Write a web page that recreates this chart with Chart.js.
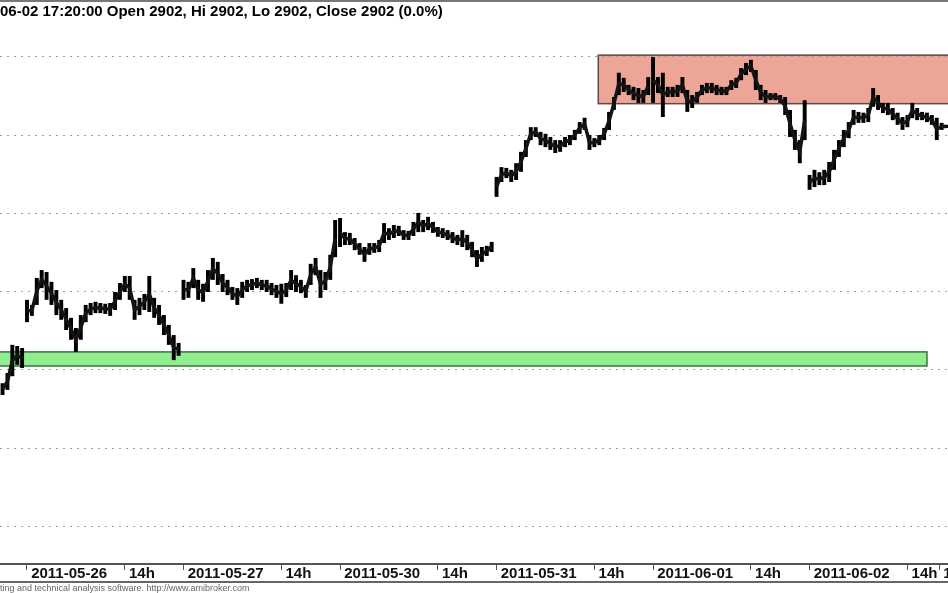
<!DOCTYPE html>
<html>
<head>
<meta charset="utf-8">
<script src="https://cdn.jsdelivr.net/npm/chart.js@4.4.0/dist/chart.umd.min.js"></script>
<style>
  html, body { margin: 0; padding: 0; background: #fff; }
  canvas { display: block; }
</style>
</head>
<body>
<canvas id="chart" width="948" height="593"></canvas>
<script>
// 15-minute slots, slot 0 = 2011-05-26 09:00 (32 slots per session)
const firstSlot = -5;
const sessionStarts = [0, 32, 64, 96, 128, 160];

// HIGH of each slot
const hiVals = [
    2836.6, 2839.2, 2846.4, 2846.1, 2845.6,                           // 05-25 close
    2857.9, 2856.6, 2863.5, 2865.5, 2865.0, 2862.5, 2860.4, 2857.9,   // 05-26
    2855.8, 2853.3, 2850.7, 2854.0, 2856.6, 2857.1, 2857.4, 2857.1,
    2856.9, 2857.1, 2859.9, 2862.2, 2864.0, 2864.0, 2857.9, 2858.4,
    2859.4, 2864.0, 2858.4, 2856.6, 2854.0, 2851.5, 2848.9, 2846.9,
    2863.0, 2862.5, 2866.0, 2863.0, 2862.0, 2865.5, 2868.6, 2867.6,   // 05-27
    2864.5, 2863.0, 2861.2, 2860.9, 2862.5, 2863.0, 2863.2, 2863.5,
    2863.0, 2863.0, 2862.2, 2861.7, 2862.0, 2862.2, 2865.5, 2864.2,
    2863.0, 2861.7, 2867.1, 2868.6, 2865.5, 2865.0, 2869.4, 2878.3,
    2878.8, 2875.2, 2875.0, 2873.7, 2872.4, 2871.4, 2872.4, 2872.4,   // 05-30
    2873.2, 2877.5, 2876.2, 2877.0, 2876.8, 2875.7, 2875.5, 2877.8,
    2880.1, 2878.3, 2879.1, 2877.8, 2876.5, 2876.2, 2875.7, 2875.2,
    2874.5, 2875.7, 2874.5, 2872.7, 2870.6, 2871.4, 2871.7, 2872.7,
    2889.3, 2891.8, 2891.6, 2891.1, 2892.8, 2895.7, 2898.7, 2902.0,   // 05-31
    2902.0, 2900.8, 2900.3, 2899.5, 2898.7, 2898.7, 2899.5, 2900.0,
    2901.3, 2903.3, 2904.4, 2900.0, 2899.2, 2900.0, 2901.8, 2905.9,
    2909.7, 2915.9, 2914.6, 2912.8, 2912.3, 2912.0, 2911.5, 2914.8,
    2919.9, 2914.8, 2915.9, 2912.3, 2912.3, 2912.8, 2914.8, 2911.5,   // 06-01
    2910.2, 2911.0, 2912.8, 2913.3, 2913.3, 2912.8, 2912.3, 2912.3,
    2914.0, 2914.6, 2917.1, 2918.4, 2919.2, 2916.6, 2912.8, 2911.5,
    2910.7, 2910.7, 2910.2, 2909.7, 2906.4, 2901.3, 2898.7, 2908.9,
    2889.8, 2891.1, 2890.5, 2891.1, 2893.1, 2896.2, 2898.7, 2901.3,   // 06-02
    2903.3, 2906.4, 2905.9, 2905.7, 2906.9, 2912.0, 2910.2, 2908.2,
    2908.2, 2906.9, 2905.7, 2904.6, 2905.1, 2908.2, 2906.9, 2905.9,
    2905.7, 2905.1, 2904.4, 2903.1, 2902.6
];

// LOW of each slot
const loVals = [
    2833.6, 2834.9, 2838.4, 2841.3, 2840.5,
    2852.2, 2853.8, 2856.6, 2860.9, 2857.9, 2856.6, 2854.0, 2852.8,
    2850.2, 2847.7, 2844.6, 2847.7, 2852.2, 2854.0, 2854.5, 2854.5,
    2854.3, 2853.8, 2855.3, 2857.9, 2859.9, 2857.9, 2852.8, 2854.0,
    2855.3, 2854.8, 2853.3, 2851.5, 2848.9, 2846.4, 2842.5, 2843.6,
    2857.9, 2858.4, 2860.9, 2857.9, 2857.4, 2859.9, 2863.0, 2861.7,
    2859.9, 2859.1, 2857.9, 2856.6, 2858.4, 2859.9, 2860.4, 2860.9,
    2860.4, 2859.9, 2859.1, 2858.4, 2856.9, 2858.6, 2860.4, 2859.9,
    2859.6, 2858.4, 2861.7, 2864.2, 2858.4, 2860.4, 2863.0, 2868.8,
    2871.4, 2871.9, 2871.9, 2870.6, 2869.4, 2867.6, 2869.4, 2869.9,
    2870.1, 2872.4, 2873.2, 2873.7, 2874.2, 2873.2, 2873.2, 2874.2,
    2875.2, 2875.2, 2875.7, 2875.0, 2874.0, 2873.7, 2873.2, 2872.4,
    2871.9, 2871.4, 2870.6, 2868.8, 2866.3, 2867.6, 2869.1, 2870.1,
    2884.2, 2888.0, 2889.0, 2888.0, 2888.5, 2890.6, 2894.4, 2898.7,
    2899.5, 2897.4, 2896.9, 2896.2, 2895.4, 2895.7, 2896.9, 2897.4,
    2898.7, 2900.3, 2901.3, 2896.2, 2896.9, 2897.4, 2898.7, 2901.3,
    2906.4, 2910.2, 2911.0, 2910.2, 2908.9, 2908.2, 2908.2, 2910.2,
    2908.2, 2910.7, 2904.6, 2909.7, 2909.7, 2909.7, 2910.7, 2905.9,
    2906.9, 2908.2, 2910.2, 2910.7, 2910.7, 2910.2, 2910.2, 2910.2,
    2911.5, 2912.0, 2914.0, 2915.3, 2916.1, 2911.5, 2908.9, 2908.2,
    2908.9, 2908.9, 2908.2, 2905.1, 2899.5, 2896.2, 2892.8, 2898.7,
    2886.0, 2886.7, 2887.2, 2887.2, 2888.0, 2891.1, 2894.4, 2896.9,
    2899.2, 2902.6, 2903.1, 2903.1, 2903.3, 2907.2, 2906.4, 2905.6,
    2905.1, 2903.8, 2902.6, 2901.3, 2902.0, 2904.3, 2903.8, 2903.8,
    2903.3, 2902.6, 2898.7, 2901.3, 2901.8
];

// x axis ticks (slot positions) and their labels
const tickSlots  = [0, 20, 32, 52, 64, 84, 96, 116, 128, 148, 160, 180, 186.5];
const tickLabels = ['2011-05-26', '14h', '2011-05-27', '14h', '2011-05-30', '14h',
                    '2011-05-31', '14h', '2011-06-01', '14h', '2011-06-02', '14h', '16h'];

// horizontal grid levels
const yTicks = [2800, 2820, 2840, 2860, 2880, 2900, 2920];

// support (green) and resistance (red) zones
const supportZone = { from: -10, to: 184.0, lo: 2841.0, hi: 2844.6 };
const resistZone  = { from: 116.8, to: 200, lo: 2908.0, hi: 2920.4 };

const titleText  = '2011-06-02 17:20:00 Open 2902, Hi 2902, Lo 2902, Close 2902 (0.0%)';
const footerText = 'AmiBroker - charting and technical analysis software. http://www.amibroker.com';

const bars = hiVals.map((h, i) => ({ x: firstSlot + i, y: [loVals[i], h] }));

// mid price path, broken at each session open
const midPath = [];
hiVals.forEach((h, i) => {
    const s = firstSlot + i;
    if (sessionStarts.includes(s)) midPath.push({ x: s - 0.5, y: null });
    midPath.push({ x: s, y: (h + loVals[i]) / 2 });
});

const FONT = "'Liberation Sans', Arial, sans-serif";

// zones go under the grid dots
const zonesPlugin = {
    id: 'zones',
    beforeDraw(chart) {
        const { ctx, chartArea, scales: { x, y } } = chart;
        ctx.save();
        ctx.beginPath();
        ctx.rect(chartArea.left, chartArea.top, chartArea.width, chartArea.height);
        ctx.clip();
        [[supportZone, '#90ee90', '#3e6e3e'], [resistZone, '#eca596', '#5a4b48']].forEach(([z, fill, line]) => {
            const x0 = x.getPixelForValue(z.from), x1 = x.getPixelForValue(z.to);
            const y0 = y.getPixelForValue(z.hi), y1 = y.getPixelForValue(z.lo);
            ctx.fillStyle = fill;
            ctx.fillRect(x0, y0, x1 - x0, y1 - y0);
            ctx.strokeStyle = line;
            ctx.lineWidth = 1.5;
            ctx.strokeRect(x0, y0, x1 - x0, y1 - y0);
        });
        ctx.restore();
    }
};

// frame lines, title line and footer
const framePlugin = {
    id: 'frame',
    afterDraw(chart) {
        const { ctx, width } = chart;
        ctx.save();
        ctx.fillStyle = '#777';
        ctx.fillRect(0, 0, width, 2);
        ctx.fillStyle = '#666';
        ctx.fillRect(0, 581, width, 2);

        ctx.font = 'bold 15px ' + FONT;
        ctx.fillStyle = '#000';
        ctx.textBaseline = 'alphabetic';
        ctx.fillText(titleText, -ctx.measureText('2011-').width, 16);

        ctx.font = '9px ' + FONT;
        ctx.fillStyle = '#666';
        ctx.fillText(footerText, -ctx.measureText('AmiBroker - char').width, 591);
        ctx.restore();
    }
};

new Chart(document.getElementById('chart'), {
    type: 'bar',
    data: {
        datasets: [{
            type: 'line',
            data: midPath,
            borderColor: '#141414',
            borderWidth: 3.5,
            pointRadius: 0,
            spanGaps: false,
            tension: 0
        }, {
            data: bars,
            backgroundColor: '#000',
            borderWidth: 0,
            barPercentage: 0.8,
            categoryPercentage: 1,
            grouped: false
        }]
    },
    options: {
        responsive: false,
        animation: false,
        events: [],
        layout: { padding: { top: 2, left: 0, right: 0, bottom: 0 } },
        plugins: {
            legend: { display: false },
            tooltip: { enabled: false },
            title: { display: false }
        },
        scales: {
            x: {
                type: 'linear',
                min: -5.52,
                max: 188.3,
                offset: false,
                afterBuildTicks: s => { s.ticks = tickSlots.map(v => ({ value: v })); },
                afterFit: s => { s.height = 29; s.paddingLeft = 0; s.paddingRight = 0; },
                grid: { drawOnChartArea: false, drawTicks: true, tickLength: 6, color: '#555', lineWidth: 1, offset: false },
                border: { display: true, color: '#555', width: 2 },
                ticks: {
                    autoSkip: false,
                    maxRotation: 0,
                    align: 'start',
                    padding: -5,
                    color: '#111',
                    font: { family: FONT, size: 15, weight: 'bold' },
                    callback: v => ' ' + tickLabels[tickSlots.indexOf(v)]
                }
            },
            y: {
                min: 2790.43,
                max: 2933.97,
                afterBuildTicks: s => { s.ticks = yTicks.map(v => ({ value: v })); },
                ticks: { display: false },
                grid: { drawTicks: false, color: '#9a9a9a', lineWidth: 1 },
                border: { display: false, dash: [2, 5] }
            }
        }
    },
    plugins: [zonesPlugin, framePlugin]
});
</script>
</body>
</html>
